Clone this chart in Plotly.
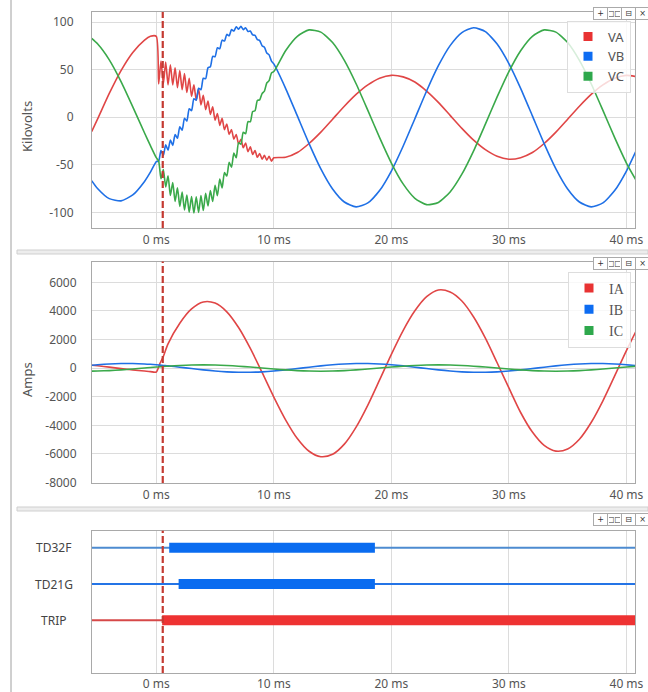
import plotly.graph_objects as go

# ---------------- data ----------------
# voltage sample times (ms)
t_v = [-5.5, -5, -4, -3, -2, -1, -0.5, 0,
       0.2, 0.4, 0.6, 0.8, 1.0, 1.2, 1.4, 1.6, 1.8, 2.0,
       2.2, 2.4, 2.6, 2.8, 3.0, 3.2, 3.4, 3.6, 3.8, 4.0,
       4.2, 4.4, 4.6, 4.8, 5.0, 5.2, 5.4, 5.6, 5.8, 6.0,
       6.2, 6.4, 6.6, 6.8, 7.0, 7.2, 7.4, 7.6, 7.8, 8.0,
       8.2, 8.4, 8.6, 8.8, 9.0, 9.2, 9.4, 9.6, 9.8, 10.0,
       11, 12, 13, 14, 15, 16, 17, 18, 19, 20,
       21, 22, 23, 24, 25, 26, 27, 28, 29, 30,
       31, 32, 33, 34, 35, 36, 37, 38, 39, 40, 41]

va = [-15, -2, 25, 49, 68, 81, 85, 85,
      35, 59, 35, 58, 34, 55, 34, 52, 31, 49,
      29, 46, 26, 41, 22, 34, 18, 30, 13, 23,
      8, 17, 3, 11, -3, 4, -8.5, -1, -13, -7,
      -18, -13, -23, -18, -28, -23, -32, -27, -36, -31,
      -39, -35, -42, -38, -44, -40, -45, -41, -46, -42.5,
      -42, -37, -27.5, -15.6, -2, 11.6, 24, 34, 41, 44,
      42.4, 37, 27.5, 15.6, 2, -11.6, -24, -34, -41, -44,
      -42.4, -37, -27.5, -15.6, -2, 11.6, 24, 34, 41, 44, 42.4]

vb = [-66.5, -74.7, -85.4, -87.7, -81.5, -67.3, -57.6, -46.5,
      -46, -35, -40, -29, -34.5, -24, -29.5, -18, -22, -10,
      -13.5, -1, -4, 9, 7, 19.5, 18, 30.5, 29, 41,
      40.5, 52, 53, 64, 63.5, 73, 72, 81, 80, 87,
      85.5, 92, 90.5, 95, 92.5, 95.5, 92, 94, 90, 90.5,
      86.5, 86, 81.5, 80.5, 75, 73.5, 67.5, 65.5, 59, 56,
      30.4, 1.5, -27.6, -54.1, -75.2, -88.9, -94, -89.9, -76.9, -56.4,
      -30.4, -1.5, 27.6, 54.1, 75.2, 88.9, 94, 89.9, 76.9, 56.4,
      30.4, 1.5, -27.6, -54.1, -75.2, -88.9, -94, -89.9, -76.9, -56.4, -30.4]

vc = [82.8, 77.1, 60.3, 37.5, 11.0, -16.5, -29.8, -42.4,
      -45.9, -64.5, -54.9, -73.1, -61.4, -82.1, -68.4, -88.4, -74.1, -93.5,
      -78.5, -97.3, -81.6, -99.6, -83.2, -100.5, -83.4, -99.9, -82.1, -97.9,
      -79.9, -93, -76.8, -88.4, -71.4, -82.3, -64.8, -74.1, -58, -61.7,
      -47.2, -52.5, -37.6, -42.5, -26.7, -28.3, -15.8, -17.2, -4.5, -4.7,
      6, 6.8, 17.6, 18.3, 24.9, 27.5, 36, 38.4, 46.6, 48,
      69.9, 85, 91.7, 89.4, 78.4, 59.7, 35.2, 7.2, -21.4, -48,
      -69.9, -85, -91.7, -89.4, -78.4, -59.7, -35.2, -7.2, 21.4, 48,
      69.9, 85, 91.7, 89.4, 78.4, 59.7, 35.2, 7.2, -21.4, -48, -69.9]

# current sample times (ms)
t_i = [-5.5, -5, -4, -3, -2, -1, -0.5, 0, 0.3, 0.6,
       1, 2, 3, 4, 5, 6, 7, 8, 9, 10,
       11, 12, 13, 14, 15, 16, 17, 18, 19, 20,
       21, 22, 23, 24, 25, 26, 27, 28, 29, 30,
       31, 32, 33, 34, 35, 36, 37, 38, 39, 40, 41]

ia = [210, 165, 75, -30, -120, -200, -240, -270, 320, 820,
      1700, 3140, 4140, 4630, 4550, 3940, 2840, 1380, -300, -2020,
      -3610, -4920, -5810, -6190, -6020, -5310, -4120, -2580, -820, 970,
      2630, 4010, 5000, 5470, 5330, 4700, 3580, 2100, 380, -1380,
      -3100, -4470, -5400, -5800, -5650, -4970, -3800, -2280, -540, 1230, 2880]

ib = [202, 239, 296, 326, 326, 296, 271, 239, 215, 190,
      161, 68, -28, -121, -199, -256, -286, -286, -256, -199,
      -121, -28, 68, 161, 239, 296, 326, 326, 296, 239,
      161, 68, -28, -121, -199, -256, -286, -286, -256, -199,
      -121, -28, 68, 161, 239, 296, 326, 326, 296, 239, 161]

ic = [-207, -199, -168, -119, -58, 10, 44, 78, 97, 115,
      139, 188, 219, 230, 219, 188, 139, 78, 10, -58,
      -119, -168, -199, -210, -199, -168, -119, -58, 10, 78,
      139, 188, 219, 230, 219, 188, 139, 78, 10, -58,
      -119, -168, -199, -210, -199, -168, -119, -58, 10, 78, 139]

v_names = ["VA", "VB", "VC"]
i_names = ["IA", "IB", "IC"]

# digital elements: assert / deassert times (ms)
dig_labels = ["TD32F", "TD21G", "TRIP"]
dig_rows = [3, 2, 1]
dig_on = [1.1, 1.9, 0.5]
dig_off = [18.6, 18.6, 41.0]

t_trigger = 0.55
x_ticks = [0, 10, 20, 30, 40]
x_tick_text = ["0 ms", "10 ms", "20 ms", "30 ms", "40 ms"]
v_ticks = [-100, -50, 0, 50, 100]
v_tick_text = ["-100", "-50", "0", "50", "100"]
i_ticks = [-8000, -6000, -4000, -2000, 0, 2000, 4000, 6000]
i_tick_text = ["-8000", "-6000", "-4000", "-2000", "0", "2000", "4000", "6000"]
t_start, t_end = -5.5, 41.0

# ---------------- styling ----------------
W, H = 648, 692
line_cols = ["#e04646", "#1f70e6", "#3aa94a"]
leg_cols = ["#e83232", "#0d6cf2", "#2ea84c"]
dig_thin = ["#4d8bd0", "#2474e6", "#d64848"]
dig_thick = ["#0a6cf0", "#0a6cf0", "#ee3232"]
FONT = "Noto Sans"
TXT = "#555555"


def py(p):
    return 1 - p / H


XDOM = [92 / W, 635 / W]
XR = [-5.47, 40.73]

fig = go.Figure()

# voltages
for n, vals, c, lc in zip(v_names, [va, vb, vc], line_cols, leg_cols):
    fig.add_trace(go.Scatter(x=t_v, y=vals, mode="lines",
                             line=dict(color=c, width=1.6, shape="spline", smoothing=0.6),
                             showlegend=False, xaxis="x", yaxis="y", name=n))
    fig.add_trace(go.Scatter(x=[None], y=[None], mode="markers", name=n,
                             marker=dict(symbol="square", size=9, color=lc),
                             legend="legend", xaxis="x", yaxis="y"))
# currents
for n, vals, c, lc in zip(i_names, [ia, ib, ic], line_cols, leg_cols):
    fig.add_trace(go.Scatter(x=t_i, y=vals, mode="lines",
                             line=dict(color=c, width=1.6, shape="spline", smoothing=0.8),
                             showlegend=False, xaxis="x2", yaxis="y2", name=n))
    fig.add_trace(go.Scatter(x=[None], y=[None], mode="markers", name=n,
                             marker=dict(symbol="square", size=9, color=lc),
                             legend="legend2", xaxis="x2", yaxis="y2"))
# digitals
for lab, row, on, off, thin, thick in zip(dig_labels, dig_rows, dig_on, dig_off, dig_thin, dig_thick):
    fig.add_trace(go.Scatter(x=[t_start, t_end], y=[row, row], mode="lines",
                             line=dict(color=thin, width=2), showlegend=False,
                             xaxis="x3", yaxis="y3", name=lab))
    fig.add_trace(go.Scatter(x=[on, off], y=[row, row], mode="lines",
                             line=dict(color=thick, width=10), showlegend=False,
                             xaxis="x3", yaxis="y3", name=lab))

axis_common = dict(showline=True, mirror=True, linecolor="#a9a9a9", linewidth=1,
                   gridcolor="#dcdcdc", gridwidth=1, zeroline=False, automargin=False,
                   tickfont=dict(family=FONT, size=12, color=TXT), ticks="")
xcommon = dict(axis_common, domain=XDOM, range=XR, tickvals=x_ticks, ticktext=x_tick_text,
               ticklabelstandoff=1)

fig.update_layout(
    width=W, height=H, margin=dict(l=0, r=0, t=0, b=0, autoexpand=False),
    paper_bgcolor="white", plot_bgcolor="white",
    xaxis=dict(xcommon, anchor="y"),
    yaxis=dict(axis_common, domain=[py(228), py(12)], range=[-116.2, 110.5],
               tickvals=v_ticks, ticktext=v_tick_text, anchor="x", ticklabelstandoff=15),
    xaxis2=dict(xcommon, anchor="y2"),
    yaxis2=dict(axis_common, domain=[py(483), py(261.5)], range=[-8030, 7460],
                tickvals=i_ticks, ticktext=i_tick_text, anchor="x2", ticklabelstandoff=12),
    xaxis3=dict(xcommon, anchor="y3", ticklabelstandoff=0),
    yaxis3=dict(axis_common, domain=[py(673), py(530.7)], range=[-0.45, 3.47],
                tickvals=dig_rows, showticklabels=False, showgrid=False, anchor="x3"),
    legend=dict(x=631 / W, xanchor="right", y=py(20.5), yanchor="top",
                bgcolor="rgba(255,255,255,0.8)", bordercolor="#dddddd", borderwidth=1,
                font=dict(family=FONT, size=13, color=TXT), itemwidth=30,
                tracegroupgap=0),
    legend2=dict(x=631 / W, xanchor="right", y=py(271.5), yanchor="top",
                 bgcolor="rgba(255,255,255,0.8)", bordercolor="#dddddd", borderwidth=1,
                 font=dict(family="Liberation Serif", size=14, color=TXT), itemwidth=30,
                 tracegroupgap=0),
)

shapes = []
for xr, yr in [("x", "y"), ("x2", "y2"), ("x3", "y3")]:
    shapes.append(dict(type="line", xref=xr, yref=yr + " domain", x0=t_trigger, x1=t_trigger,
                       y0=0, y1=1, layer="above",
                       line=dict(color="#c43a32", width=2.2, dash="7px,3px")))
# panel separators and left frame line
for ypx in [250, 507]:
    shapes.append(dict(type="rect", xref="paper", yref="paper", x0=17 / W, x1=1,
                       y0=py(ypx + 4), y1=py(ypx), fillcolor="#ededed",
                       line=dict(color="#cfcfcf", width=1)))
shapes.append(dict(type="line", xref="paper", yref="paper", x0=11 / W, x1=11 / W,
                   y0=0, y1=1, line=dict(color="#a0a0a0", width=1)))
fig.update_layout(shapes=shapes)

ann = []
ann.append(dict(text="Kilovolts", xref="paper", yref="paper", x=27 / W, y=py(127),
                xanchor="center", yanchor="middle",
                showarrow=False, textangle=-90, font=dict(family=FONT, size=13, color=TXT)))
ann.append(dict(text="Amps", xref="paper", yref="paper", x=27 / W, y=py(380),
                xanchor="center", yanchor="middle",
                showarrow=False, textangle=-90, font=dict(family=FONT, size=13, color=TXT)))
for lab, row in zip(dig_labels, dig_rows):
    ann.append(dict(text=lab, xref="paper", yref="y3", x=53.5 / W, y=row, xanchor="center",
                    showarrow=False, font=dict(family=FONT, size=12, color="#444444")))
# small toolbar buttons at the top right of each panel
for ycen in [13, 263, 519]:
    for xc, sym in zip([600.5, 614.5, 628.5, 642.5], ["+", "□□", "⊟", "×"]):
        ann.append(dict(text=sym, xref="paper", yref="paper", x=xc / W, y=py(ycen),
                        xanchor="center", yanchor="middle", showarrow=False,
                        font=dict(family="DejaVu Sans", size=8, color="#333333"),
                        bgcolor="white", bordercolor="#aaaaaa", borderwidth=1, borderpad=1,
                        width=11, height=9))
fig.update_layout(annotations=ann)

fig.write_html("out.html", config={"displayModeBar": False},
               post_script="document.body.style.margin='0';"
                           "document.body.style.overflow='hidden';")
